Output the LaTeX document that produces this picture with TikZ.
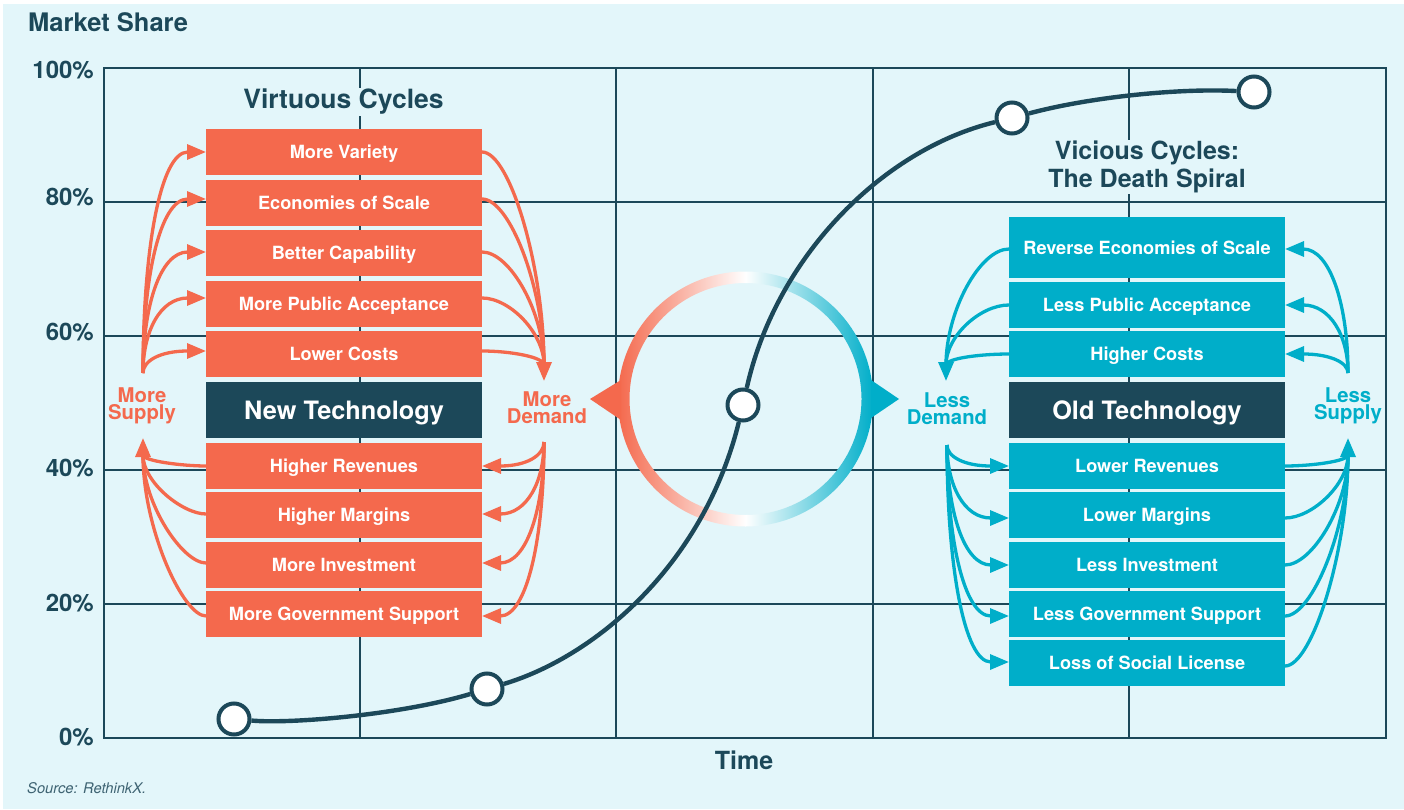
\documentclass[tikz,border=0pt]{standalone}
\usepackage{fontspec}
\setmainfont{TeX Gyre Heros}
\usetikzlibrary{arrows.meta}
\definecolor{bgc}{HTML}{E3F6FA}
\definecolor{darkc}{HTML}{1C4859}
\definecolor{coralc}{HTML}{F4694D}
\definecolor{tealc}{HTML}{00AEC9}
\tikzset{
  gridl/.style={draw=darkc,line width=1.3pt},
  boxn/.style={minimum width=276pt,inner sep=0pt,outer sep=0pt,text=white,
     font=\bfseries\fontsize{18.2}{20}\selectfont,text height=13.4pt,text depth=0pt},
  redbox/.style={boxn,fill=coralc,minimum height=46pt},
  bluebox/.style={boxn,fill=tealc,minimum height=46pt},
  techbox/.style={boxn,fill=darkc,minimum height=56pt,font=\bfseries\fontsize{25.3}{28}\selectfont,text height=19.5pt,text depth=0pt},
  axl/.style={anchor=east,text=darkc,inner sep=0pt,font=\bfseries\fontsize{24}{25}\selectfont,text height=17pt,text depth=0pt},
  ttl/.style={text=darkc,fill=bgc,inner sep=1pt,align=center,font=\bfseries\fontsize{26.5}{28}\selectfont},
  flowl/.style={align=center,inner sep=0pt,font=\bfseries\fontsize{20.3}{17}\selectfont},
  redarr/.style={draw=coralc,line width=3.3pt,-{Triangle[length=19pt,width=15pt]}},
  bluearr/.style={draw=tealc,line width=3.3pt,-{Triangle[length=19pt,width=15pt]}},
  dot/.style={circle,draw=darkc,fill=white,line width=4pt,minimum size=31pt,inner sep=0pt},
  sline/.style={draw=darkc,line width=4.4pt}
}
\begin{document}
\begin{tikzpicture}[x=1pt,y=-1pt]
\useasboundingbox (0,0) rectangle (1404,810);
\fill[white] (0,0) rectangle (1404,810);
\fill[bgc] (3,4) rectangle (1404,809);
% grid
\draw[gridl] (104,68) rectangle (1386,738);
\foreach \gx in {360,616,873,1129} \draw[gridl] (\gx,68) -- (\gx,738);
\foreach \gy in {202,336,470,604} \draw[gridl] (104,\gy) -- (1386,\gy);
% axis text
\node[anchor=west,text=darkc,inner sep=0pt,font=\bfseries\fontsize{25.5}{26}\selectfont] (ylab) at (28,22) {Market Share};
\node[axl] (p100) at (94,70) {100\%};
\node[axl] (p80) at (94,197) {80\%};
\node[axl] (p60) at (94,332) {60\%};
\node[axl] (p40) at (94,468) {40\%};
\node[axl] (p20) at (94,603) {20\%};
\node[axl] (p0) at (94,737) {0\%};
\node[text=darkc,inner sep=0pt,font=\bfseries\fontsize{25}{27}\selectfont] (xlab) at (744,760) {Time};
\node[anchor=west,text=darkc!85,inner sep=0pt,font=\itshape\fontsize{14.7}{16}\selectfont] (src) at (27,788) {Source: RethinkX.};
\node[ttl] (virt) at (343.5,102) {Virtuous Cycles};
\node[ttl,font=\bfseries\fontsize{25}{28}\selectfont] (vic) at (1147,167) {Vicious Cycles:\\The Death Spiral};
% ring
\begin{scope}[even odd rule]
\clip (745.5,399) circle (127.5) (745.5,399) circle (116);
\shade[left color=coralc,right color=tealc,middle color=white] (618,270) rectangle (873,528);
\end{scope}
\fill[coralc] (590,399) -- (621,380) -- (621,420) -- cycle;
\fill[tealc] (899,399) -- (871,380) -- (871,418) -- cycle;
% left boxes
\node[redbox] (l1) at (344,152) {More Variety};
\node[redbox] (l2) at (344,203) {Economies of Scale};
\node[redbox] (l3) at (344,253) {Better Capability};
\node[redbox] (l4) at (344,304) {More Public Acceptance};
\node[redbox] (l5) at (344,354) {Lower Costs};
\node[techbox] (newt) at (344,409.5) {New Technology};
\node[redbox] (l6) at (344,466) {Higher Revenues};
\node[redbox] (l7) at (344,515) {Higher Margins};
\node[redbox] (l8) at (344,565) {More Investment};
\node[redbox] (l9) at (344,614) {More Government Support};
% right boxes
\node[bluebox,minimum height=61pt] (r1) at (1147,247.5) {Reverse Economies of Scale};
\node[bluebox] (r2) at (1147,305) {Less Public Acceptance};
\node[bluebox] (r3) at (1147,354) {Higher Costs};
\node[techbox] (oldt) at (1147,409.5) {Old Technology};
\node[bluebox] (r4) at (1147,466) {Lower Revenues};
\node[bluebox] (r5) at (1147,515) {Lower Margins};
\node[bluebox] (r6) at (1147,565) {Less Investment};
\node[bluebox] (r7) at (1147,614) {Less Government Support};
\node[bluebox] (r8) at (1147,663) {Loss of Social License};
% flow labels
\node[flowl,text=coralc] (msup) at (142,405.5) {More\\Supply};
\node[flowl,text=coralc] (mdem) at (547,407.5) {More\\Demand};
\node[flowl,text=tealc] (ldem) at (947,408.5) {Less\\Demand};
\node[flowl,text=tealc] (lsup) at (1348,405.5) {Less\\Supply};
% free ends
\coordinate (msupT) at (143,373);
\coordinate (msupB) at (143,438);
\coordinate (mdemT) at (544,381);
\coordinate (mdemB) at (544,442);
\coordinate (ldemT) at (946,381);
\coordinate (ldemB) at (947,445);
\coordinate (lsupT) at (1348,373);
\coordinate (lsupB) at (1348,438);
% coral arrows
\foreach \n/\v in {l1/152,l2/199,l3/252,l4/298,l5/351}{
  \draw[redarr] (msupT) .. controls (143,{373-.55*(373-\v)}) and (160,\v) .. (\n.west |- 0,\v);
  \draw[redarr,-] (\n.east |- 0,\v) .. controls (510,\v) and (544,{362-.45*(362-\v)}) .. (544,365);
}
\draw[redarr] (544,362) -- (mdemT);
\foreach \n/\v in {l6/466,l7/514,l8/563,l9/616}{
  \draw[redarr,-] (\n.west |- 0,\v) .. controls (183,\v) and (143,{457+.45*(\v-457)}) .. (143,455);
  \draw[redarr] (mdemB) .. controls (544,{442+.55*(\v-442)}) and (527,\v) .. (\n.east |- 0,\v);
}
\draw[redarr] (143,457) -- (msupB);
% teal arrows
\foreach \n/\v in {r1/249,r2/305,r3/354}{
  \draw[bluearr,-] (\n.west |- 0,\v) .. controls (980,\v) and (946,{362-.45*(362-\v)}) .. (946,365);
  \draw[bluearr] (lsupT) .. controls (1348,{373-.55*(373-\v)}) and (1330,\v) .. (\n.east |- 0,\v);
}
\draw[bluearr] (946,362) -- (ldemT);
\foreach \n/\v/\w in {r4/466/466,r5/518/518,r6/565/565,r7/616/616,r8/662/666}{
  \draw[bluearr] (ldemB) .. controls (947,{445+.55*(\v-445)}) and (964,\v) .. (\n.west |- 0,\v);
  \draw[bluearr,-] (\n.east |- 0,\w) .. controls (1312,\w) and (1348,{457+.45*(\w-457)}) .. (1348,455);
}
\draw[bluearr] (1348,457) -- (lsupB);
% S curve
\node[dot] (c1) at (234,719) {};
\node[dot] (c2) at (487,689) {};
\node[dot] (c3) at (743,405) {};
\node[dot] (c4) at (1012,118) {};
\node[dot] (c5) at (1254,92) {};
\draw[sline] (c1) .. controls (290,724) and (400,715) .. (c2);
\draw[sline] (c2) .. controls (600,655) and (705,560) .. (c3);
\draw[sline] (c3) .. controls (775,260) and (880,150) .. (c4);
\draw[sline] (c4) .. controls (1090,97) and (1180,88) .. (c5);
\end{tikzpicture}
\end{document}
